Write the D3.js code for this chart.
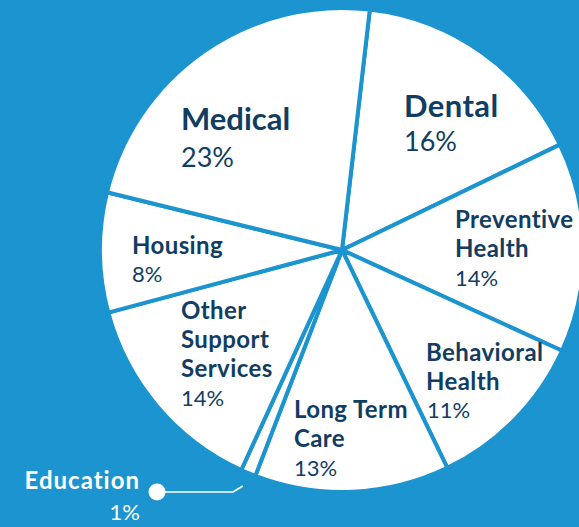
<!DOCTYPE html>
<html>
<head>
<meta charset="utf-8">
<script src="https://cdn.jsdelivr.net/npm/d3@7"></script>
<style>
  html, body { margin: 0; padding: 0; background: #1b94cf; }
  svg { display: block; }
</style>
</head>
<body>
<div class="graph"></div>
<script>
let w = 579;
let h = 527;

// data
let categories = ["Dental", "Preventive Health", "Behavioral Health", "Long Term Care", "Education", "Other Support Services", "Housing", "Medical"];
let shares = [16, 14, 11, 13, 1, 14, 8, 23];
let shareLabels = ["16%", "14%", "11%", "13%", "1%", "14%", "8%", "23%"];

let navy = "#113d62";
let blue = "#1b94cf";

let cx = 342, cy = 250, r = 242;

let svgvar = d3
  .select(".graph")
  .append("svg")
  .attr("width", w)
  .attr("height", h);

svgvar.append("rect").attr("width", w).attr("height", h).attr("fill", blue);

let pie = d3
  .pie()
  .sort(null)
  .startAngle((6.6 * Math.PI) / 180)
  .endAngle((6.6 * Math.PI) / 180 + 2 * Math.PI);

let arcs = pie(shares);
let arc = d3.arc().innerRadius(0).outerRadius(r);

let g = svgvar.append("g").attr("transform", "translate(" + cx + "," + cy + ")");

g.selectAll("path")
  .data(arcs)
  .enter()
  .append("path")
  .attr("d", arc)
  .attr("fill", "#fff")
  .attr("stroke", blue)
  .attr("stroke-width", 4)
  .attr("stroke-linejoin", "round");

// label layout: x, first baseline, title lines, sizes
let layout = {
  "Medical": { x: 181, y: 130, lines: ["Medical"], fs: 31, ls: 0, ps: 27, gap: 37 },
  "Dental": { x: 404, y: 117, lines: ["Dental"], fs: 31, ls: 0.4, ps: 27, gap: 34 },
  "Preventive Health": { x: 455, y: 228, lines: ["Preventive", "Health"], fs: 24, ls: 0.4, ps: 22, gap: 29 },
  "Behavioral Health": { x: 426, y: 361, lines: ["Behavioral", "Health"], fs: 24, ls: 0.4, ps: 22, gap: 29 },
  "Long Term Care": { x: 294, y: 418, lines: ["Long Term", "Care"], fs: 24, ls: 0.4, ps: 22, gap: 29 },
  "Other Support Services": { x: 181, y: 319, lines: ["Other", "Support", "Services"], fs: 24, ls: 0.4, ps: 22, gap: 29 },
  "Housing": { x: 132, y: 254, lines: ["Housing"], fs: 24, ls: 0.4, ps: 22, gap: 28 }
};

categories.forEach(function (c, i) {
  let L = layout[c];
  if (!L) return;
  let t = svgvar.append("g").attr("fill", navy).style("font-family", "Lato, 'Noto Sans', sans-serif");
  L.lines.forEach(function (line, j) {
    t.append("text")
      .attr("x", L.x)
      .attr("y", L.y + j * 29)
      .style("font-size", L.fs + "px")
      .style("font-weight", 700)
      .style("letter-spacing", L.ls + "px")
      .text(line);
  });
  let py = L.y + (L.lines.length - 1) * 29 + L.gap;
  let px = L.x;
  if (c === "Behavioral Health") {
    py = 418;
    px = 427;
  }
  t.append("text")
    .attr("x", px)
    .attr("y", py)
    .style("font-size", L.ps + "px")
    .style("font-weight", 400)
    .text(shareLabels[i]);
});

// Education callout outside the pie
let edu = arcs[categories.indexOf("Education")];
let mid = (edu.startAngle + edu.endAngle) / 2;
let tip = [cx + (r + 14) * Math.sin(mid), cy - (r + 14) * Math.cos(mid)];
let elbow = [233, 492];
let dot = [157, 492];

svgvar
  .append("polyline")
  .attr("points", [tip, elbow, dot].map((p) => p.join(",")).join(" "))
  .attr("fill", "none")
  .attr("stroke", "#fff")
  .attr("stroke-width", 1.5);

svgvar.append("circle").attr("cx", dot[0]).attr("cy", dot[1]).attr("r", 8.5).attr("fill", "#fff");

svgvar
  .append("text")
  .attr("x", 140)
  .attr("y", 489)
  .attr("text-anchor", "end")
  .attr("fill", "#fff")
  .style("font-family", "Lato, 'Noto Sans', sans-serif")
  .style("font-size", "24px")
  .style("font-weight", 700)
  .style("letter-spacing", "1px")
  .text("Education");

svgvar
  .append("text")
  .attr("x", 140)
  .attr("y", 520)
  .attr("text-anchor", "end")
  .attr("fill", "#fff")
  .style("font-family", "Lato, 'Noto Sans', sans-serif")
  .style("font-size", "22px")
  .style("font-weight", 400)
  .text(shareLabels[categories.indexOf("Education")]);
</script>
</body>
</html>
